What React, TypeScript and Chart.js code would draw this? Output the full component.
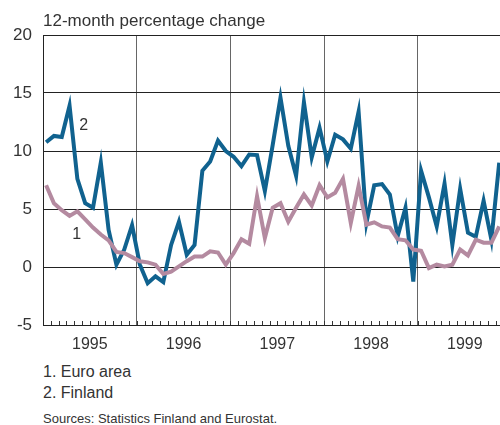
import React, { useEffect, useRef } from "react";
import { Chart, registerables } from "chart.js";

Chart.register(...registerables);

const YEARS = ["1995", "1996", "1997", "1998", "1999"];
const Y_TICKS = [-5, 0, 5, 10, 15, 20];

// Monthly 12-month percentage change, Jan 1995 onwards
const EURO_AREA = [
  7.05, 5.5, 4.9, 4.4, 4.8, 4.1, 3.4, 2.8, 2.3, 1.3, 1.2, 0.85,
  0.5, 0.4, 0.2, -0.6, -0.4, 0.05, 0.5, 0.9, 0.9, 1.35, 1.25, 0.2,
  1.2, 2.4, 2.0, 6.1, 2.5, 5.1, 5.5, 3.9, 5.1, 6.25, 5.3, 7.05,
  6.0, 6.4, 7.6, 3.8, 7.0, 3.65, 3.85, 3.5, 3.4, 2.4, 2.3, 1.5,
  1.4, -0.1, 0.2, 0.05, 0.2, 1.5, 1.0, 2.35, 2.1, 2.1, 3.5,
];
const FINLAND = [
  10.75, 11.3, 11.2, 13.9, 7.6, 5.5, 5.1, 9.0, 3.2, 0.2, 1.5, 3.6,
  0.2, -1.4, -0.8, -1.3, 1.9, 3.9, 1.05, 1.9, 8.3, 9.1, 10.9, 10.0,
  9.5, 8.7, 9.7, 9.65, 6.55, 10.5, 14.6, 10.45, 7.85, 14.2, 9.45, 12.0,
  9.1, 11.4, 11.0, 10.2, 13.4, 3.8, 7.05, 7.15, 6.25, 2.65, 5.1, -1.25,
  8.3, 6.0, 3.5, 7.2, 1.9, 6.75, 2.95, 2.6, 5.7, 2.35, 9.0,
];
// inline series labels: [text, month position, value]
const SERIES_LABELS: [string, number, number][] = [
  ["1", 4.3, 2.8],
  ["2", 5.2, 12.2],
];

const X_MAX = 58.5;
const FONT = "'Liberation Sans', Arial, sans-serif";
const TEXT = "#333";

export default function App() {
  const ref = useRef<HTMLCanvasElement | null>(null);

  useEffect(() => {
    if (!ref.current) return;
    const months: number[] = [];
    for (let m = 0; m <= 58; m++) months.push(m);

    const minorTicks = {
      id: "minorTicks",
      beforeDatasetsDraw(chart: any) {
        const { ctx, chartArea, scales } = chart;
        ctx.save();
        ctx.strokeStyle = "#333";
        ctx.lineWidth = 1;
        for (let m = 1; m <= 58; m++) {
          const x = Math.round(scales.x.getPixelForValue(m)) + 0.5;
          ctx.beginPath();
          ctx.moveTo(x, chartArea.bottom);
          ctx.lineTo(x, chartArea.bottom - 4);
          ctx.stroke();
        }
        ctx.restore();
      },
      afterDatasetsDraw(chart: any) {
        const { ctx, scales } = chart;
        ctx.save();
        ctx.fillStyle = TEXT;
        ctx.font = `16px ${FONT}`;
        ctx.textAlign = "center";
        ctx.textBaseline = "middle";
        for (const [t, mx, v] of SERIES_LABELS) {
          ctx.fillText(t, scales.x.getPixelForValue(mx), scales.y.getPixelForValue(v));
        }
        ctx.restore();
      },
    };

    const chart = new Chart(ref.current, {
      type: "line",
      data: {
        datasets: [
          {
            label: "Euro area",
            data: EURO_AREA.map((v, i) => ({ x: i + 0.4, y: v })),
            borderColor: "#b48aa0",
            borderWidth: 4,
            pointRadius: 0,
            tension: 0,
          },
          {
            label: "Finland",
            data: FINLAND.map((v, i) => ({ x: i + 0.4, y: v })),
            borderColor: "#10628f",
            borderWidth: 4,
            pointRadius: 0,
            tension: 0,
          },
        ],
      },
      options: {
        responsive: false,
        animation: false,
        devicePixelRatio: 1,
        layout: { padding: { top: 35, left: 0, right: 0, bottom: 0 } },
        plugins: { legend: { display: false }, tooltip: { enabled: false }, title: { display: false } },
        scales: {
          x: {
            type: "linear",
            min: 0,
            max: X_MAX,
            afterBuildTicks: (s: any) => {
              s.ticks = months.map((v) => ({ value: v }));
            },
            afterFit: (s: any) => {
              s.height = 35;
              s.paddingLeft = 0;
              s.paddingRight = 0;
            },
            grid: {
              drawTicks: false,
              color: (c: any) =>
                c.tick && c.tick.value % 12 === 0 && c.tick.value > 0 ? "#666" : "rgba(0,0,0,0)",
              lineWidth: 1,
            },
            border: { display: true, color: "#222", width: 1 },
            ticks: {
              autoSkip: false,
              maxRotation: 0,
              padding: 10,
              color: TEXT,
              font: { family: FONT, size: 16 },
              callback: (v: any) => (Number(v) % 12 === 6 ? YEARS[Math.floor(Number(v) / 12)] : ""),
            },
          },
          y: {
            min: -5,
            max: 20,
            afterBuildTicks: (s: any) => {
              s.ticks = Y_TICKS.map((v) => ({ value: v }));
            },
            afterFit: (s: any) => {
              s.width = 43;
              s.paddingTop = 0;
              s.paddingBottom = 0;
            },
            grid: { drawTicks: false, color: "#222", lineWidth: 1 },
            border: { display: true, color: "#222", width: 1 },
            ticks: {
              padding: 11,
              color: TEXT,
              font: { family: FONT, size: 17 },
            },
          },
        },
      },
      plugins: [minorTicks],
    } as any);
    return () => chart.destroy();
  }, []);

  const txt: React.CSSProperties = {
    position: "absolute",
    left: 43,
    color: TEXT,
    fontFamily: FONT,
    whiteSpace: "nowrap",
    lineHeight: 1,
  };

  return (
    <div style={{ position: "absolute", left: 0, top: 0, width: 500, height: 425, background: "#fff", overflow: "hidden" }}>
      <canvas ref={ref} width={500} height={360} style={{ position: "absolute", left: 0, top: 0 }} />
      <div style={{ ...txt, top: 12, fontSize: 17 }}>12-month percentage change</div>
      <div style={{ ...txt, top: 364, fontSize: 16 }}>1. Euro area</div>
      <div style={{ ...txt, top: 385, fontSize: 16 }}>2. Finland</div>
      <div style={{ ...txt, top: 412, fontSize: 13 }}>Sources: Statistics Finland and Eurostat.</div>
    </div>
  );
}
